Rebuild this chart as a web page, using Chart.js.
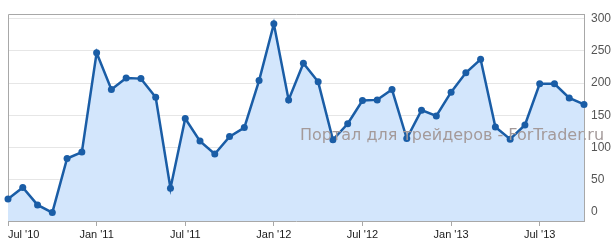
<!DOCTYPE html>
<html lang="ru">
<head>
  <meta charset="UTF-8">
  <title>ForTrader</title>
  <script src="https://cdn.jsdelivr.net/npm/chart.js"></script>
  <style>
    body {
      margin: 0;
      background: #fff;
    }
    #wrap {
      width: 612px;
      height: 247px;
    }
  </style>
</head>
<body>
  <div id="wrap"><canvas id="grafico"></canvas></div>

  <script>
    const months = ["Jul '10", "Aug '10", "Sep '10", "Oct '10", "Nov '10", "Dec '10",
      "Jan '11", "Feb '11", "Mar '11", "Apr '11", "May '11", "Jun '11",
      "Jul '11", "Aug '11", "Sep '11", "Oct '11", "Nov '11", "Dec '11",
      "Jan '12", "Feb '12", "Mar '12", "Apr '12", "May '12", "Jun '12",
      "Jul '12", "Aug '12", "Sep '12", "Oct '12", "Nov '12", "Dec '12",
      "Jan '13", "Feb '13", "Mar '13", "Apr '13", "May '13", "Jun '13",
      "Jul '13", "Aug '13", "Sep '13", "Oct '13"];

    const values = [20, 38, 11, -1, 83, 93,
      247, 190, 208, 207, 178, 37,
      145, 110, 90, 117, 131, 204,
      292, 174, 231, 202, 112, 137,
      173, 174, 190, 114, 158, 149,
      186, 216, 237, 132, 113, 135,
      199, 199, 177, 167];

    const yTicks = [0, 50, 100, 150, 200, 250, 300];
    const watermark = "Портал для трейдеров - ForTrader.ru";

    // рамка слева и сверху + водяной знак
    const extras = {
      id: "extras",
      beforeDatasetsDraw(chart) {
        const { ctx, chartArea: a } = chart;
        ctx.save();
        ctx.strokeStyle = "#a8a8a8";
        ctx.lineWidth = 1;
        ctx.beginPath();
        ctx.moveTo(Math.round(a.left) + 0.5, a.bottom);
        ctx.lineTo(Math.round(a.left) + 0.5, Math.round(a.top) + 0.5);
        ctx.lineTo(a.right, Math.round(a.top) + 0.5);
        ctx.stroke();
        ctx.restore();
      },
      afterDraw(chart) {
        const ctx = chart.ctx;
        ctx.save();
        ctx.font = '16px "DejaVu Sans"';
        ctx.fillStyle = "#a49a9a";
        ctx.textBaseline = "alphabetic";
        ctx.fillText(watermark, 300, 140);
        ctx.restore();
      }
    };

    const ctx = document.getElementById("grafico").getContext("2d");
    const chart = new Chart(ctx, {
      type: "line",
      data: {
        labels: months,
        datasets: [{
          data: values,
          borderColor: "#1a5da6",
          backgroundColor: "#d3e6fc",
          borderWidth: 2.5,
          fill: "start",
          tension: 0,
          pointRadius: 3.5,
          pointBackgroundColor: "#1a5da6",
          pointBorderWidth: 0
        }]
      },
      options: {
        responsive: true,
        maintainAspectRatio: false,
        animation: false,
        layout: { padding: { left: 8, top: 5, right: 0, bottom: 0 } },
        plugins: {
          legend: { display: false },
          tooltip: { enabled: false }
        },
        scales: {
          x: {
            type: "category",
            offset: false,
            afterFit: s => { s.height = 26; },
            grid: {
              drawOnChartArea: false,
              tickLength: 5,
              tickColor: c => (c.index % 6 === 0 ? "#a8a8a8" : "transparent")
            },
            border: { color: "#a8a8a8" },
            ticks: {
              autoSkip: false,
              maxRotation: 0,
              align: "inner",
              padding: 2,
              color: "#1a1a1a",
              font: { family: "Liberation Sans", size: 11 },
              callback: (v, i) => (i % 6 === 0 ? months[i] : "")
            }
          },
          y: {
            position: "right",
            min: -14,
            max: 307,
            afterFit: s => { s.width = 28; },
            afterBuildTicks: s => { s.ticks = yTicks.map(v => ({ value: v })); },
            grid: { color: "#e6e6e6", drawTicks: false },
            border: { color: "#a8a8a8" },
            ticks: {
              padding: 7,
              color: "#555",
              font: { family: "Liberation Sans", size: 12 }
            }
          }
        }
      },
      plugins: [extras]
    });
  </script>
</body>
</html>
